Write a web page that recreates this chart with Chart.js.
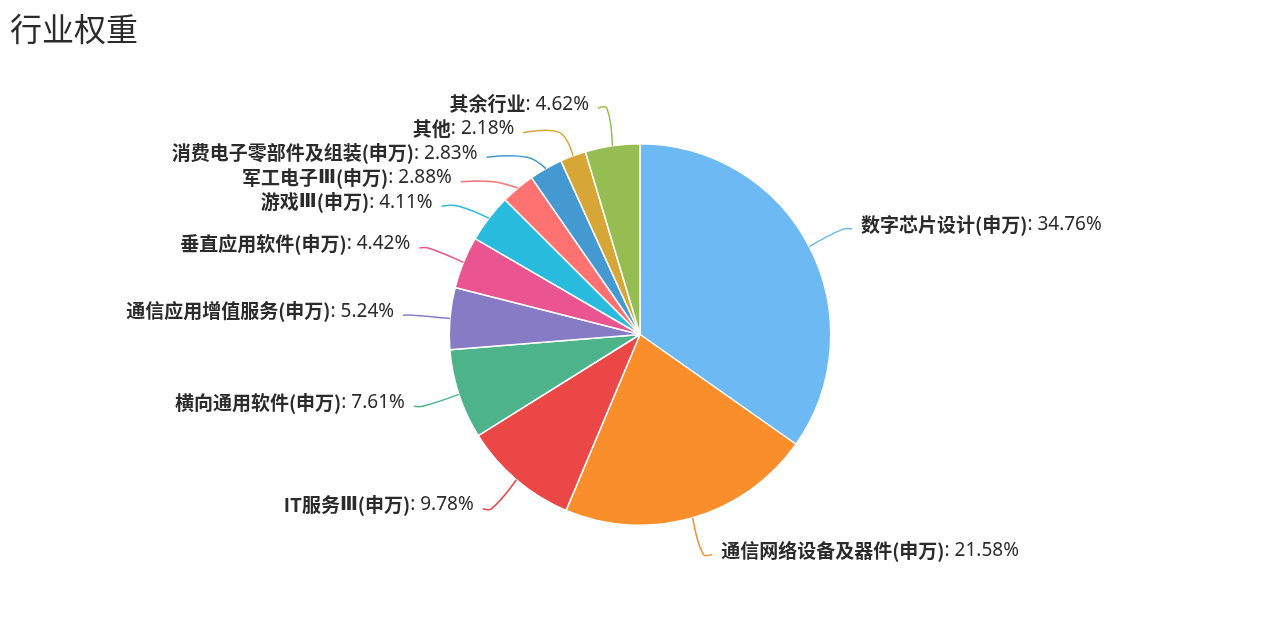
<!DOCTYPE html>
<html>
<head>
<meta charset="utf-8">
<script src="https://cdn.jsdelivr.net/npm/chart.js@4/dist/chart.umd.min.js"></script>
<style>
  html, body { margin: 0; padding: 0; background: #ffffff; }
  #wrap { position: relative; width: 1266px; height: 619px; }
</style>
</head>
<body>
<div id="wrap"><canvas id="chart" width="1266" height="619"></canvas></div>
<script>
// Industry weights (%), clockwise from 12 o'clock
const titleText = '行业权重';
const categories = [
  '数字芯片设计(申万)',
  '通信网络设备及器件(申万)',
  'IT服务Ⅲ(申万)',
  '横向通用软件(申万)',
  '通信应用增值服务(申万)',
  '垂直应用软件(申万)',
  '游戏Ⅲ(申万)',
  '军工电子Ⅲ(申万)',
  '消费电子零部件及组装(申万)',
  '其他',
  '其余行业'
];
const weights = [34.76, 21.58, 9.78, 7.61, 5.24, 4.42, 4.11, 2.88, 2.83, 2.18, 4.62];
const sliceColors = [
  '#6cb9f3', '#fa8e2b', '#eb4747', '#4cb38b', '#887bc6', '#ea5490',
  '#29bbdd', '#ff7272', '#4499d1', '#d6a636', '#95bd52'
];

const NAME_FONT = '"Noto Sans CJK SC", "Noto Sans", sans-serif';
const NUMERAL_FONT = '"DejaVu Sans", "Noto Sans CJK SC", sans-serif';
const VALUE_FONT = '"Noto Sans", "Noto Sans CJK SC", sans-serif';
const TEXT_COLOR = '#2b2b2b';

// Split a category name into text runs; Roman numerals get their own face
function nameRuns(name, size) {
  const runs = [];
  for (const ch of name) {
    const font = /[\u2160-\u217F]/.test(ch)
      ? 'bold ' + size + 'px ' + NUMERAL_FONT
      : 'bold ' + size + 'px ' + NAME_FONT;
    const last = runs[runs.length - 1];
    if (last && last.font === font) last.text += ch;
    else runs.push({ text: ch, font });
  }
  return runs;
}

// Draws a polyline through the points with smoothed corners
function smoothPath(ctx, pts, s) {
  const cps = [];
  for (let i = 0; i < pts.length; i++) {
    if (i === 0 || i === pts.length - 1) { cps.push([pts[i], pts[i]]); continue; }
    const prev = pts[i - 1], cur = pts[i], next = pts[i + 1];
    const vx = (next[0] - prev[0]) * s, vy = (next[1] - prev[1]) * s;
    let d0 = Math.hypot(cur[0] - prev[0], cur[1] - prev[1]);
    let d1 = Math.hypot(next[0] - cur[0], next[1] - cur[1]);
    const sum = d0 + d1;
    if (sum) { d0 /= sum; d1 /= sum; }
    cps.push([[cur[0] - vx * d0, cur[1] - vy * d0], [cur[0] + vx * d1, cur[1] + vy * d1]]);
  }
  ctx.moveTo(pts[0][0], pts[0][1]);
  for (let i = 1; i < pts.length; i++) {
    const c1 = cps[i - 1][1], c2 = cps[i][0];
    ctx.bezierCurveTo(c1[0], c1[1], c2[0], c2[1], pts[i][0], pts[i][1]);
  }
}

// Push overlapping labels downwards, keeping the sort order
function shiftDown(items, rowH) {
  items.sort((a, b) => a.y - b.y);
  let last = -Infinity, moved = false;
  for (const it of items) {
    const top = it.y - rowH / 2;
    if (top < last) { it.y += last - top; moved = true; }
    last = it.y + rowH / 2;
  }
  return moved;
}

// Re-align label ends on an ellipse after vertical shifting
function realignX(items, len2) {
  if (!items.length) return;
  const cy = items[0].cy, cx = items[0].cx, rA = items[0].rA, dir = items[0].dir;
  const semis = [{ list: [], maxY: 0, rB: rA }, { list: [], maxY: 0, rB: rA }];
  for (const it of items) {
    const s = it.y > cy ? semis[1] : semis[0];
    const dy = Math.abs(it.y - cy);
    if (dy >= s.maxY) {
      const dx = it.p1x - cx;
      s.rB = Math.abs(dx) < rA ? Math.sqrt(dy * dy / (1 - dx * dx / (rA * rA))) : rA;
      s.maxY = dy;
    }
    s.list.push(it);
  }
  for (const s of semis) {
    for (const it of s.list) {
      const dy = Math.abs(it.y - cy);
      const dx = Math.sqrt(Math.max(0, 1 - dy * dy / (s.rB * s.rB))) * rA;
      it.p2x = cx + dir * (dx + len2);
    }
  }
}

const pieLabels = {
  id: 'pieLabels',
  afterDatasetsDraw(chart) {
    const ctx = chart.ctx;
    const meta = chart.getDatasetMeta(0);
    const len1 = 38, len2 = 9, gap = 9, rowH = 24.5, fontSize = 19;

    const items = meta.data.map((arc, i) => {
      const p = arc.getProps(['x', 'y', 'startAngle', 'endAngle', 'outerRadius'], true);
      const mid = (p.startAngle + p.endAngle) / 2;
      const ux = Math.cos(mid), uy = Math.sin(mid);
      const r = p.outerRadius;
      const dir = ux < 0 ? -1 : 1;
      const p1x = p.x + ux * (r + len1);
      return {
        i, dir, cx: p.x, cy: p.y, rA: r + len1,
        p0x: p.x + ux * r, p0y: p.y + uy * r,
        p1x, y: p.y + uy * (r + len1),
        p2x: p1x + dir * len2
      };
    });

    const left = items.filter(it => it.dir < 0);
    const right = items.filter(it => it.dir > 0);
    if (shiftDown(left, rowH)) realignX(left, len2);
    if (shiftDown(right, rowH)) realignX(right, len2);

    ctx.save();
    for (const it of items) {
      const color = sliceColors[it.i];
      ctx.beginPath();
      smoothPath(ctx, [[it.p0x, it.p0y], [it.p1x, it.y], [it.p2x, it.y]], 0.4);
      ctx.strokeStyle = color;
      ctx.lineWidth = 1.5;
      ctx.stroke();

      const runs = nameRuns(categories[it.i], fontSize);
      runs.push({ text: ': ' + weights[it.i].toFixed(2) + '%', font: fontSize + 'px ' + VALUE_FONT });
      let total = 0;
      for (const run of runs) {
        ctx.font = run.font;
        run.w = ctx.measureText(run.text).width;
        total += run.w;
      }
      const ty = it.y - 4;
      let tx = it.p2x + it.dir * gap;
      if (it.dir < 0) tx -= total;
      ctx.textBaseline = 'middle';
      ctx.textAlign = 'left';
      ctx.fillStyle = TEXT_COLOR;
      for (const run of runs) {
        ctx.font = run.font;
        ctx.fillText(run.text, tx, ty);
        tx += run.w;
      }
    }
    ctx.restore();
  },
  afterDraw(chart) {
    const ctx = chart.ctx;
    ctx.save();
    ctx.font = '32px "Noto Sans CJK SC", sans-serif';
    ctx.fillStyle = TEXT_COLOR;
    ctx.textBaseline = 'middle';
    ctx.textAlign = 'left';
    ctx.fillText(titleText, 10, 29);
    ctx.restore();
  }
};

new Chart(document.getElementById('chart'), {
  type: 'pie',
  data: {
    labels: categories,
    datasets: [{
      data: weights,
      backgroundColor: sliceColors,
      borderColor: '#ffffff',
      borderWidth: 1.5
    }]
  },
  options: {
    responsive: false,
    animation: false,
    events: [],
    layout: { padding: { top: 143, bottom: 93, left: 300, right: 286 } },
    plugins: {
      legend: { display: false },
      tooltip: { enabled: false },
      title: { display: false }
    }
  },
  plugins: [pieLabels]
});
</script>
</body>
</html>
